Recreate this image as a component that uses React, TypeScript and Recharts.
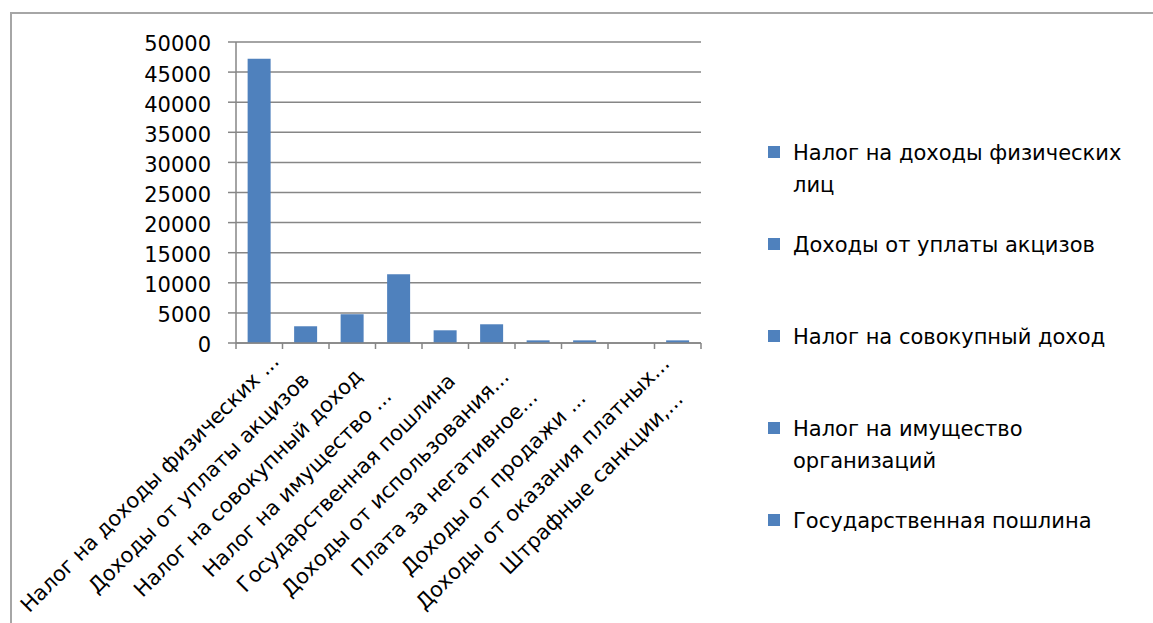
import { BarChart, Bar, XAxis, YAxis, CartesianGrid, Legend } from 'recharts';

const categories = [
  'Налог на доходы физических ...',
  'Доходы от уплаты акцизов',
  'Налог на совокупный доход',
  'Налог на имущество ...',
  'Государственная пошлина',
  'Доходы от использования...',
  'Плата за негативное...',
  'Доходы от продажи ...',
  'Доходы от оказания платных...',
  'Штрафные санкции,...',
];

const values = [47200, 2780, 4780, 11440, 2110, 3110, 440, 440, 0, 440];

const legendNames = [
  'Налог на доходы физических лиц',
  'Доходы от уплаты акцизов',
  'Налог на совокупный доход',
  'Налог на имущество организаций',
  'Государственная пошлина',
];

const yTicks = [0, 5000, 10000, 15000, 20000, 25000, 30000, 35000, 40000, 45000, 50000];

const data = categories.map((name, i) => ({ name, value: values[i] }));

const BAR_COLOR = '#4F81BD';
const GRID = '#868686';
const FONT = 'DejaVu Sans';

// plot box
const PLOT_LEFT = 236;
const PLOT_TOP = 42;
const PLOT_RIGHT = 701;
const PLOT_BOTTOM = 343;
const HALF_BAND = (PLOT_RIGHT - PLOT_LEFT) / categories.length / 2;

function CategoryTick(props: any) {
  const { x, payload, index } = props;
  const cx = x - 104.5 + 2.6 * index;
  const cy = 488;
  return (
    <g>
      {index === 0 && (
        <line x1={x - HALF_BAND} y1={PLOT_BOTTOM} x2={x - HALF_BAND} y2={PLOT_BOTTOM + 6} stroke={GRID} strokeWidth={1.5} />
      )}
      <line x1={x + HALF_BAND} y1={PLOT_BOTTOM} x2={x + HALF_BAND} y2={PLOT_BOTTOM + 6} stroke={GRID} strokeWidth={1.5} />
      <text
        x={cx}
        y={cy}
        textAnchor="middle"
        transform={`rotate(-45 ${cx} ${cy})`}
        fontSize={21}
        fontFamily={FONT}
        fill="#000"
      >
        {payload.value}
      </text>
    </g>
  );
}

function LegendBox() {
  return (
    <div style={{ fontFamily: FONT, fontSize: 21, color: '#000' }}>
      {legendNames.map((name) => (
        <div key={name} style={{ display: 'flex', alignItems: 'flex-start', height: 92 }}>
          <div style={{ width: 12, height: 12, background: BAR_COLOR, marginTop: 9, marginRight: 13, flexShrink: 0 }} />
          <div style={{ lineHeight: '32px', width: 345 }}>{name}</div>
        </div>
      ))}
    </div>
  );
}

export default function App() {
  return (
    <div style={{ position: 'fixed', left: 0, top: 0, width: 1153, height: 623, overflow: 'hidden', background: '#fff' }}>
      <div
        style={{
          position: 'absolute',
          left: 10,
          top: 12,
          width: 1200,
          height: 700,
          border: '2px solid #a6a6a6',
        }}
      />
      <div style={{ position: 'absolute', left: 0, top: 0 }}>
        <BarChart
          width={1153}
          height={623}
          data={data}
          margin={{ top: PLOT_TOP, right: 1153 - PLOT_RIGHT, bottom: 0, left: PLOT_LEFT - 90 }}
          barCategoryGap="25%"
        >
          <CartesianGrid horizontal vertical={false} stroke={GRID} strokeWidth={1.5} />
          <XAxis
            dataKey="name"
            height={623 - PLOT_BOTTOM}
            interval={0}
            tickLine={false}
            axisLine={{ stroke: GRID, strokeWidth: 1.5 }}
            tick={<CategoryTick />}
          />
          <YAxis
            width={90}
            domain={[0, 50000]}
            ticks={yTicks}
            interval={0}
            tickSize={8}
            tickMargin={17}
            axisLine={{ stroke: GRID, strokeWidth: 1.5 }}
            tickLine={{ stroke: GRID, strokeWidth: 1.5 }}
            tick={{ fontSize: 21, fill: '#000', fontFamily: FONT, dy: 2 }}
          />
          <Legend
            layout="vertical"
            align="center"
            verticalAlign="middle"
            wrapperStyle={{ left: 768, top: 137, width: 380 }}
            content={<LegendBox />}
          />
          <Bar dataKey="value" fill={BAR_COLOR} isAnimationActive={false} />
        </BarChart>
      </div>
    </div>
  );
}
